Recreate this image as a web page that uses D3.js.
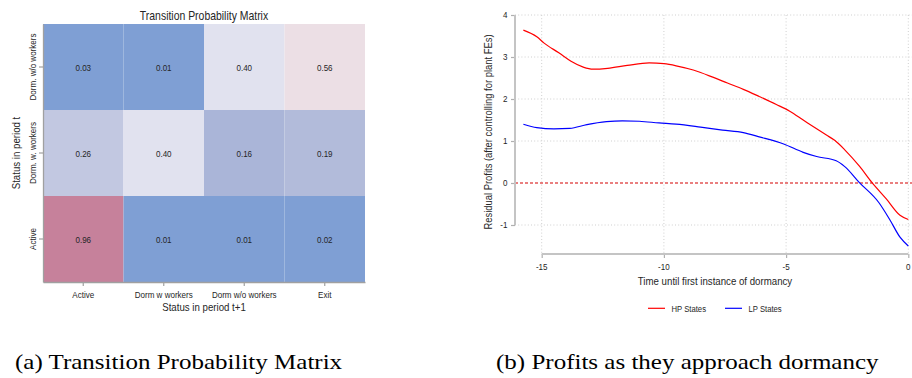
<!DOCTYPE html>
<html>
<head>
<meta charset="utf-8">
<script src="https://cdn.jsdelivr.net/npm/d3@7"></script>
<style>
  body { margin: 0; background: #fff; }
  svg { display: block; }
  .sans { font-family: "Liberation Sans", Arial, sans-serif; }
  .serif { font-family: "Liberation Serif", "Times New Roman", serif; }
</style>
</head>
<body>
<svg id="fig" width="912" height="378"></svg>
<script>
// ---- Panel (a): transition probabilities ----
const statusFrom = ["Dorm. w/o workers", "Dorm. w. workers", "Active"];
const statusTo = ["Active", "Dorm w workers", "Dorm w/o workers", "Exit"];
const probFromActive = [0.96, 0.01, 0.01, 0.02];
const probFromDormWith = [0.26, 0.40, 0.16, 0.19];
const probFromDormWithout = [0.03, 0.01, 0.40, 0.56];

// ---- Panel (b): residual profits before dormancy ----
const yearsHP = [-15.75, -15.2, -14.9, -14.3, -13.8, -13.3, -12.9, -12.3, -11.5, -10.6, -10.0, -9.5, -8.8, -8.0, -7.4, -6.75, -6.1, -5.4, -4.85, -4.3, -3.75, -3.35, -3.0, -2.6, -2.0, -1.5, -0.9, -0.34, 0];
const profitsHP = [3.64, 3.48, 3.33, 3.10, 2.90, 2.76, 2.71, 2.73, 2.80, 2.86, 2.84, 2.79, 2.69, 2.52, 2.38, 2.23, 2.06, 1.87, 1.71, 1.50, 1.29, 1.14, 1.01, 0.79, 0.40, 0.02, -0.38, -0.77, -0.87];
const yearsLP = [-15.75, -15.2, -14.5, -13.85, -13.15, -12.35, -11.7, -11.0, -10.2, -9.5, -8.5, -7.6, -6.75, -6.1, -5.1, -4.3, -3.75, -2.95, -2.6, -2.0, -1.2, -0.75, -0.34, 0];
const profitsLP = [1.40, 1.32, 1.29, 1.30, 1.39, 1.46, 1.48, 1.47, 1.43, 1.40, 1.33, 1.26, 1.20, 1.10, 0.93, 0.73, 0.63, 0.53, 0.39, 0.01, -0.47, -0.88, -1.29, -1.50];
const xTickValues = [-15, -10, -5, 0];
const yTickValues = [-1, 0, 1, 2, 3, 4];
const seriesNames = ["HP States", "LP States"];

const svg = d3.select("#fig");
const INK = "#262626";
const NARROW = 0.82; // condensed sans rendering

// text placed at (x, y), optionally rotated, squeezed horizontally along its own baseline
function label(parent, x, y, str, opt = {}) {
  const rot = opt.rotate || 0;
  const k = opt.stretch || NARROW;
  return parent.append("text")
    .attr("transform", `translate(${x},${y}) rotate(${rot}) scale(${k},1)`)
    .attr("text-anchor", opt.anchor || "middle")
    .attr("dy", opt.dy || null)
    .attr("font-size", opt.size || 9.5)
    .attr("fill", opt.fill || INK)
    .text(str);
}

// ================= Panel (a) =================
const matrix = [
  { from: "Active", values: probFromActive },
  { from: "Dorm. w. workers", values: probFromDormWith },
  { from: "Dorm. w/o workers", values: probFromDormWithout }
];
const cells = matrix.flatMap(r => r.values.map((v, i) => ({ from: r.from, to: statusTo[i], value: v })));

const hx = d3.scaleBand().domain(statusTo).range([43, 365]);
const hy = d3.scaleBand().domain(statusFrom).range([24, 282]);
const heatColor = d3.scaleLinear()
  .domain([0.04, 0.175, 0.40, 0.52, 0.96])
  .range(["#7f9fd4", "#afb8d9", "#e1e2ef", "#f0e8ec", "#c6819b"])
  .clamp(true);

const pa = svg.append("g").attr("class", "sans");

pa.append("g").selectAll("rect").data(cells).join("rect")
  .attr("x", d => hx(d.to))
  .attr("y", d => hy(d.from))
  .attr("width", hx.bandwidth())
  .attr("height", hy.bandwidth())
  .attr("fill", d => heatColor(d.value));

const cellLabels = pa.append("g");
cells.forEach(d => label(cellLabels, hx(d.to) + hx.bandwidth() / 2, hy(d.from) + hy.bandwidth() / 2,
  d.value.toFixed(2), { size: 9.8, dy: "0.36em" }));

const axA = pa.append("g").attr("transform", "translate(43,0)")
  .call(d3.axisLeft(hy).tickSize(4).tickSizeOuter(0));
axA.selectAll(".tick text").remove();
const axB = pa.append("g").attr("transform", "translate(0,282)")
  .call(d3.axisBottom(hx).tickSize(4).tickSizeOuter(0));
axB.selectAll(".tick text").remove();
[axA, axB].forEach(a => {
  a.select(".domain").attr("stroke", "#a0a0a0").attr("stroke-width", 1.3);
  a.selectAll(".tick line").attr("stroke", "#a0a0a0").attr("stroke-width", 1.2);
});

const rowLabels = pa.append("g");
statusFrom.forEach(s => label(rowLabels, 35.5, hy(s) + hy.bandwidth() / 2, s, { rotate: -90, size: 9.8 }));
const colLabels = pa.append("g");
statusTo.forEach(s => label(colLabels, hx(s) + hx.bandwidth() / 2, 298, s, { size: 9.8 }));

label(pa, 204, 19.5, "Transition Probability Matrix", { size: 12, stretch: 0.87 });
label(pa, 204, 311, "Status in period t+1", { size: 11.8 });
label(pa, 19.5, 153, "Status in period t", { size: 11.8, rotate: -90 });

// ================= Panel (b) =================
const px = d3.scaleLinear().domain([-15, 0]).range([541.7, 908.3]);
const py = d3.scaleLinear().domain([-1, 4]).range([225, 15]);
const plotTop = 15, plotBottom = 254, plotLeft = 515, plotRight = 912;

const pb = svg.append("g").attr("class", "sans");

// dotted grid
pb.append("g").selectAll("line").data(yTickValues.filter(v => v !== 0)).join("line")
  .attr("x1", plotLeft).attr("x2", plotRight)
  .attr("y1", d => py(d)).attr("y2", d => py(d))
  .attr("stroke", "#cfcfcf").attr("stroke-width", 1).attr("stroke-dasharray", "1,2.2");
pb.append("g").selectAll("line").data(xTickValues).join("line")
  .attr("x1", d => px(d)).attr("x2", d => px(d))
  .attr("y1", plotTop).attr("y2", plotBottom)
  .attr("stroke", "#cfcfcf").attr("stroke-width", 1).attr("stroke-dasharray", "1,2.2");

// zero reference line
pb.append("line")
  .attr("x1", plotLeft).attr("x2", plotRight)
  .attr("y1", py(0)).attr("y2", py(0))
  .attr("stroke", "#d40000").attr("stroke-width", 1.1).attr("stroke-dasharray", "3,2");

// axes: tick marks from d3, lines spanning the labelled range
const axY = pb.append("g").attr("transform", `translate(${plotLeft},0)`)
  .call(d3.axisLeft(py).tickValues(yTickValues).tickSize(4).tickSizeOuter(0));
const axX = pb.append("g").attr("transform", `translate(0,${plotBottom})`)
  .call(d3.axisBottom(px).tickValues(xTickValues).tickSize(4).tickSizeOuter(0));
[axY, axX].forEach(a => {
  a.select(".domain").remove();
  a.selectAll(".tick text").remove();
  a.selectAll(".tick line").attr("stroke", "#b0b0b0").attr("stroke-width", 1.2);
});
pb.append("line").attr("x1", plotLeft).attr("x2", plotLeft)
  .attr("y1", py(-1)).attr("y2", py(4)).attr("stroke", "#c4c4c4").attr("stroke-width", 2);
pb.append("line").attr("x1", px(-15)).attr("x2", px(0))
  .attr("y1", plotBottom).attr("y2", plotBottom).attr("stroke", "#c4c4c4").attr("stroke-width", 2);

const yLabels = pb.append("g");
yTickValues.forEach(v => label(yLabels, plotLeft - 7.5, py(v), String(v), { anchor: "end", dy: "0.35em", size: 9.8 }));
const xLabels = pb.append("g");
xTickValues.forEach(v => label(xLabels, px(v), 269.5, String(v), { size: 9.8 }));

// series
const lineGen = d3.line().x(d => px(d[0])).y(d => py(d[1])).curve(d3.curveMonotoneX);
const series = [
  { name: seriesNames[0], color: "#ff0000", pts: d3.zip(yearsHP, profitsHP) },
  { name: seriesNames[1], color: "#0000ff", pts: d3.zip(yearsLP, profitsLP) }
];
pb.append("g").selectAll("path").data(series).join("path")
  .attr("d", d => lineGen(d.pts))
  .attr("fill", "none")
  .attr("stroke", d => d.color)
  .attr("stroke-width", 1.2);

// axis titles
label(pb, 715, 285, "Time until first instance of dormancy", { size: 11.8 });
label(pb, 491.5, 132, "Residual Profits (after controlling for plant FEs)", { size: 11.5, rotate: -90 });

// legend
const legendX = [648, 725];
series.forEach((s, i) => {
  const g = pb.append("g").attr("transform", `translate(${legendX[i]},308.3)`);
  g.append("line").attr("x1", 0).attr("x2", 17).attr("stroke", s.color).attr("stroke-width", 1.2);
  label(g, 23.5, 3.3, s.name, { anchor: "start", size: 9.4 });
});

// ================= Captions =================
const caps = svg.append("g").attr("class", "serif");
label(caps, 15, 368.5, "(a) Transition Probability Matrix", { anchor: "start", size: 20.5, stretch: 1.22, fill: "#000" });
label(caps, 496, 368.5, "(b) Profits as they approach dormancy", { anchor: "start", size: 20.5, stretch: 1.22, fill: "#000" });
</script>
</body>
</html>
